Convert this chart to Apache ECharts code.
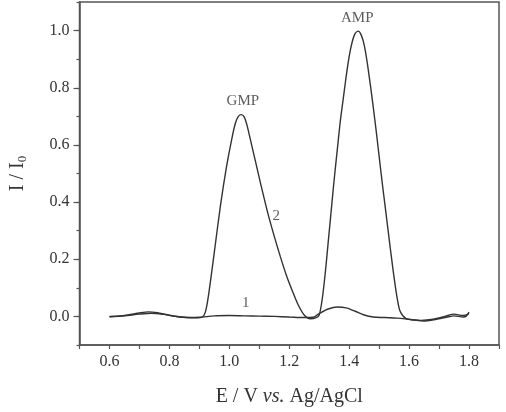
<!DOCTYPE html>
<html>
<head>
<meta charset="utf-8">
<script src="https://cdn.jsdelivr.net/npm/echarts@6/dist/echarts.min.js"></script>
<style>
  html, body { margin: 0; padding: 0; background: #fff; }
  #chart { width: 506px; height: 412px; }
</style>
</head>
<body>
<div id="chart"></div>
<script>
// curve 2: GMP + AMP peaks
const curve2E = [0.60, 0.65, 0.70, 0.73, 0.76, 0.80, 0.85, 0.89, 0.91, 0.92, 0.93, 0.95, 0.97, 0.99, 1.01, 1.02, 1.03, 1.04, 1.05, 1.06, 1.07, 1.09, 1.11, 1.13, 1.15, 1.17, 1.19, 1.21, 1.23, 1.25, 1.27, 1.29, 1.30, 1.31, 1.32, 1.33, 1.34, 1.35, 1.36, 1.37, 1.38, 1.39, 1.40, 1.41, 1.42, 1.43, 1.44, 1.45, 1.46, 1.47, 1.48, 1.49, 1.50, 1.51, 1.52, 1.53, 1.54, 1.55, 1.56, 1.57, 1.59, 1.62, 1.65, 1.68, 1.72, 1.75, 1.78, 1.79, 1.80]
const curve2I = [0.000, 0.003, 0.012, 0.016, 0.013, 0.004, -0.003, -0.005, -0.002, 0.015, 0.07, 0.225, 0.385, 0.52, 0.63, 0.675, 0.70, 0.706, 0.697, 0.665, 0.62, 0.53, 0.44, 0.355, 0.28, 0.21, 0.145, 0.09, 0.04, 0.005, -0.008, -0.004, 0.005, 0.06, 0.15, 0.26, 0.37, 0.48, 0.58, 0.68, 0.76, 0.84, 0.91, 0.96, 0.99, 0.998, 0.985, 0.95, 0.89, 0.815, 0.735, 0.65, 0.56, 0.47, 0.385, 0.30, 0.215, 0.135, 0.065, 0.018, -0.008, -0.013, -0.016, -0.012, -0.004, 0.002, -0.002, 0.000, 0.015]

// curve 1: blank
const curve1E = [0.60, 0.65, 0.70, 0.74, 0.78, 0.82, 0.86, 0.90, 0.95, 1.00, 1.05, 1.10, 1.15, 1.20, 1.25, 1.28, 1.30, 1.33, 1.36, 1.39, 1.42, 1.45, 1.48, 1.52, 1.56, 1.60, 1.64, 1.68, 1.72, 1.75, 1.78, 1.80]
const curve1I = [-0.002, 0.002, 0.008, 0.011, 0.007, 0.000, -0.004, -0.003, 0.002, 0.003, 0.002, 0.001, 0.000, -0.002, -0.004, -0.003, 0.010, 0.026, 0.033, 0.030, 0.018, 0.005, -0.002, -0.004, -0.006, -0.010, -0.014, -0.010, 0.000, 0.008, 0.003, 0.010]

// annotations on the plot
const noteText = ['GMP', 'AMP', '2', '1']
const noteE = [1.045, 1.427, 1.157, 1.055]
const noteI = [0.755, 1.045, 0.352, 0.045]

const yMajor = [0, 0.2, 0.4, 0.6, 0.8, 1.0]

const font = 'Liberation Serif, Times New Roman, serif'
const axisColor = '#555'
const textColor = '#333'

const zip = (xs, ys) => xs.map((x, i) => [x, ys[i]])

const chart = echarts.init(document.getElementById('chart'))

const option = {
  animation: false,
  grid: {
    left: 78, right: 7, top: 2, bottom: 67,
    show: true, borderColor: axisColor, borderWidth: 1.5, backgroundColor: 'transparent'
  },
  xAxis: {
    type: 'value',
    min: 0.5, max: 1.9, interval: 0.1,
    splitLine: { show: false },
    axisLine: { onZero: false, lineStyle: { color: axisColor, width: 1.5 } },
    axisTick: { length: 4, lineStyle: { color: axisColor, width: 1.2 } },
    axisLabel: {
      color: textColor, fontFamily: font, fontSize: 16, margin: 9,
      formatter: v => {
        const k = Math.round(v * 10)
        return (k % 2 === 0 && k >= 6 && k <= 18) ? (k / 10).toFixed(1) : ''
      }
    },
    name: 'E / V {i|vs.} Ag/AgCl',
    nameLocation: 'middle',
    nameGap: 42,
    nameTextStyle: {
      color: textColor, fontFamily: font, fontSize: 20,
      rich: { i: { fontStyle: 'italic', fontFamily: font, fontSize: 20, color: textColor } }
    }
  },
  yAxis: [
    {
      type: 'value',
      min: -0.1, max: 1.1, interval: 0.1,
      splitLine: { show: false },
      axisLine: { onZero: false, lineStyle: { color: axisColor, width: 1.5 } },
      axisTick: { length: 3, lineStyle: { color: axisColor, width: 1.2 } },
      axisLabel: {
        color: textColor, fontFamily: font, fontSize: 16, margin: 10,
        formatter: v => {
          const k = Math.round(v * 10)
          return (k % 2 === 0 && k >= 0 && k <= 10) ? (k / 10).toFixed(1) : ''
        }
      },
      name: 'I / I{sub|0}',
      nameLocation: 'middle',
      nameRotate: 90,
      nameGap: 50,
      nameTextStyle: {
        color: textColor, fontFamily: font, fontSize: 20,
        rich: { sub: { fontFamily: font, fontSize: 13, color: textColor, verticalAlign: 'bottom', padding: [10, 0, 0, 0] } }
      }
    },
    {
      type: 'value',
      position: 'left',
      min: -0.1, max: 1.1,
      splitLine: { show: false },
      axisLine: { show: false },
      axisTick: { show: true, length: 6, customValues: yMajor, lineStyle: { color: axisColor, width: 1.2 } },
      axisLabel: { show: false }
    }
  ],
  series: [
    {
      name: '2', type: 'line', smooth: 0.25, showSymbol: false,
      lineStyle: { color: '#333', width: 1.4 },
      data: zip(curve2E, curve2I)
    },
    {
      name: '1', type: 'line', smooth: 0.3, showSymbol: false,
      lineStyle: { color: '#333', width: 1.4 },
      data: zip(curve1E, curve1I)
    },
    {
      type: 'scatter', symbolSize: 0, silent: true,
      label: {
        show: true, position: 'inside',
        color: textColor, fontFamily: font, fontSize: 15,
        formatter: p => noteText[p.dataIndex]
      },
      data: zip(noteE, noteI)
    }
  ]
}

chart.setOption(option)
</script>
</body>
</html>
